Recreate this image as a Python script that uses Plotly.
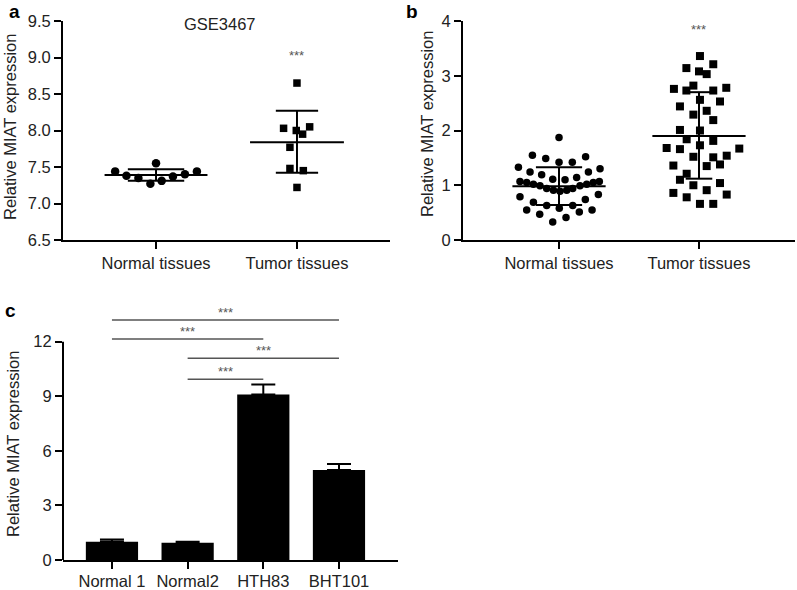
import plotly.graph_objects as go
import numpy as np

# ---------------- DATA ----------------
# Panel a (GSE3467)
a_categories = ["Normal tissues", "Tumor tissues"]
a_normal_offset = [-0.29, -0.21, -0.125, -0.04, 0.0, 0.04, 0.12, 0.205, 0.29]
a_normal_values = [7.44, 7.38, 7.35, 7.27, 7.55, 7.31, 7.37, 7.40, 7.44]
a_tumor_offset = [0.0, -0.095, -0.005, 0.09, 0.04, -0.05, -0.05, 0.045, 0.0]
a_tumor_values = [8.65, 8.03, 8.00, 8.05, 7.95, 7.77, 7.48, 7.45, 7.22]
a_mean = [7.39, 7.84]
a_sd_hi = [7.47, 8.27]
a_sd_lo = [7.31, 7.42]

# Panel b
b_categories = ["Normal tissues", "Tumor tissues"]
b_normal_offset = [0.0, -0.19, -0.095, 0.0, 0.095, 0.19, -0.29, 0.293, -0.207, 0.21,
                   -0.124, 0.126, -0.045, 0.043, -0.279, -0.231, -0.183, -0.136, -0.088, -0.04,
                   0.007, 0.055, 0.098, 0.15, 0.198, 0.245, 0.288, -0.279, 0.281, -0.183,
                   -0.088, 0.002, 0.098, 0.188, -0.231, 0.236, -0.138, 0.145, 0.05, -0.045]
b_normal_values = [1.87, 1.55, 1.49, 1.42, 1.42, 1.52, 1.33, 1.30, 1.24, 1.24,
                   1.19, 1.14, 1.11, 1.10, 1.07, 1.05, 1.02, 0.99, 0.94, 0.91,
                   0.89, 0.91, 0.94, 0.99, 1.02, 1.05, 1.07, 0.79, 0.83, 0.69,
                   0.63, 0.58, 0.63, 0.74, 0.55, 0.55, 0.47, 0.51, 0.41, 0.33]
b_tumor_offset = [0.007, -0.09, 0.102, 0.0, 0.055, -0.179, -0.09, -0.04, 0.102, 0.195,
                  0.007, 0.15, -0.136, -0.04, 0.055, 0.102, -0.136, 0.007, -0.088, 0.102,
                  -0.231, -0.136, 0.007, 0.288, -0.04, 0.102, 0.198, -0.183, 0.055, 0.15,
                  -0.088, -0.136, -0.04, 0.15, -0.183, -0.088, 0.055, 0.198, 0.007, 0.102]
b_tumor_values = [3.36, 3.14, 3.21, 3.08, 3.03, 2.76, 2.73, 2.82, 2.73, 2.78,
                  2.56, 2.53, 2.44, 2.29, 2.36, 2.19, 2.01, 2.00, 1.84, 1.81,
                  1.68, 1.66, 1.73, 1.67, 1.52, 1.51, 1.54, 1.36, 1.35, 1.38,
                  1.21, 1.10, 1.00, 1.04, 0.86, 0.78, 0.91, 0.83, 0.66, 0.66]
b_mean = [0.98, 1.90]
b_sd_hi = [1.33, 2.70]
b_sd_lo = [0.64, 1.12]

# Panel c
c_categories = ["Normal 1", "Normal2", "HTH83", "BHT101"]
c_values = [1.0, 0.95, 9.1, 4.95]
c_errors = [0.13, 0.05, 0.55, 0.33]
c_sig_pairs = [(0, 3), (0, 2), (1, 3), (1, 2)]
c_sig_labels = ["***", "***", "***", "***"]

# ---------------- STYLE ----------------
FONT = "Liberation Sans, Arial, sans-serif"
TXT = "#222222"
sig_levels = [13.19, 12.15, 11.09, 9.93]
a_mean_hw = [0.365, 0.333]
a_sd_hw = [0.2, 0.15]
b_mean_hw = [0.333, 0.333]
b_sd_hw = [0.165, 0.095]

W, H = 797, 590


def px2x(px):
    return px / W


def px2y(py):
    return 1 - py / H


def summary_lines(means, hi, lo, mean_hw, sd_hw):
    xs, ys = [], []
    for i in range(len(means)):
        xs += [i - mean_hw[i], i + mean_hw[i], None]
        ys += [means[i], means[i], None]
        xs += [i - sd_hw[i], i + sd_hw[i], None]
        ys += [hi[i], hi[i], None]
        xs += [i - sd_hw[i], i + sd_hw[i], None]
        ys += [lo[i], lo[i], None]
        xs += [i, i, None]
        ys += [lo[i], hi[i], None]
    return xs, ys


fig = go.Figure()

# Panel a
fig.add_trace(go.Scatter(x=np.array(a_normal_offset) + 0, y=a_normal_values, mode="markers",
                         marker=dict(symbol="circle", size=8.5, color="black"),
                         xaxis="x", yaxis="y", cliponaxis=False))
fig.add_trace(go.Scatter(x=np.array(a_tumor_offset) + 1, y=a_tumor_values, mode="markers",
                         marker=dict(symbol="square", size=7.5, color="black"),
                         xaxis="x", yaxis="y", cliponaxis=False))
xs, ys = summary_lines(a_mean, a_sd_hi, a_sd_lo, a_mean_hw, a_sd_hw)
fig.add_trace(go.Scatter(x=xs, y=ys, mode="lines", line=dict(color="black", width=2),
                         xaxis="x", yaxis="y"))

# Panel b
fig.add_trace(go.Scatter(x=np.array(b_normal_offset) + 0, y=b_normal_values, mode="markers",
                         marker=dict(symbol="circle", size=7.5, color="black"),
                         xaxis="x2", yaxis="y2", cliponaxis=False))
fig.add_trace(go.Scatter(x=np.array(b_tumor_offset) + 1, y=b_tumor_values, mode="markers",
                         marker=dict(symbol="square", size=8, color="black"),
                         xaxis="x2", yaxis="y2", cliponaxis=False))
xs, ys = summary_lines(b_mean, b_sd_hi, b_sd_lo, b_mean_hw, b_sd_hw)
fig.add_trace(go.Scatter(x=xs, y=ys, mode="lines", line=dict(color="black", width=2),
                         xaxis="x2", yaxis="y2"))

# Panel c
fig.add_trace(go.Bar(x=list(range(len(c_categories))), y=c_values, width=0.69,
                     marker=dict(color="black", line=dict(width=0)),
                     error_y=dict(type="data", array=c_errors, arrayminus=[0] * len(c_errors),
                                  symmetric=False, color="black", thickness=2, width=12),
                     xaxis="x3", yaxis="y3"))

axis_common = dict(showgrid=False, zeroline=False, showline=True, linecolor="black",
                   linewidth=2, ticks="outside", ticklen=7, tickwidth=2, tickcolor="black",
                   automargin=False,
                   tickfont=dict(family=FONT, size=16.5, color=TXT))

ydom_top = [px2y(240), px2y(21)]

fig.update_layout(
    width=W, height=H, margin=dict(l=0, r=0, t=0, b=0, pad=0, autoexpand=False),
    paper_bgcolor="white", plot_bgcolor="white", showlegend=False,
    font=dict(family=FONT, color=TXT),
    xaxis=dict(domain=[px2x(63), px2x(390)], range=[-0.66, 1.66], tickvals=[0, 1],
               ticktext=a_categories, anchor="y", **axis_common),
    yaxis=dict(domain=ydom_top, range=[6.5, 9.5], tickvals=[6.5, 7, 7.5, 8, 8.5, 9, 9.5],
               tickformat=".1f", anchor="x", **axis_common),
    xaxis2=dict(domain=[px2x(463), px2x(795)], range=[-0.686, 1.686], tickvals=[0, 1],
                ticktext=b_categories, anchor="y2", **axis_common),
    yaxis2=dict(domain=ydom_top, range=[0, 4], tickvals=[0, 1, 2, 3, 4], anchor="x2",
                **axis_common),
    xaxis3=dict(domain=[px2x(63), px2x(398)], range=[-0.647, 3.78],
                tickvals=list(range(len(c_categories))), ticktext=c_categories,
                anchor="y3", ticklabelstandoff=-2, **axis_common),
    yaxis3=dict(domain=[px2y(560), px2y(305.3)], range=[0, 14], tickvals=[0, 3, 6, 9, 12],
                anchor="x3", **{**axis_common, "showline": False}),
)

shapes = []
# y-axis line of panel c only up to 12
shapes.append(dict(type="line", xref="x3 domain", yref="y3", x0=0, x1=0, y0=0, y1=12,
                   line=dict(color="black", width=2)))
for (i, j), lvl in zip(c_sig_pairs, sig_levels):
    shapes.append(dict(type="line", xref="x3", yref="y3", x0=i, x1=j, y0=lvl, y1=lvl,
                       line=dict(color="#555555", width=1.5)))
fig.update_layout(shapes=shapes)

ann = []
# significance labels panel c
for (i, j), lvl, lab in zip(c_sig_pairs, sig_levels, c_sig_labels):
    ann.append(dict(x=(i + j) / 2, y=lvl, xref="x3", yref="y3", text=lab, showarrow=False,
                    xanchor="center", yanchor="bottom", yshift=-2,
                    font=dict(family=FONT, size=13, color="#555555")))
# panel a, b significance
ann.append(dict(x=1, y=9.03, xref="x", yref="y", text="***", showarrow=False,
                xanchor="center", yanchor="middle",
                font=dict(family=FONT, size=13, color="#555555")))
ann.append(dict(x=1, y=3.84, xref="x2", yref="y2", text="***", showarrow=False,
                xanchor="center", yanchor="middle",
                font=dict(family=FONT, size=13, color="#555555")))
ann.append(dict(x=px2x(220), y=px2y(24), xref="paper", yref="paper", text="GSE3467",
                showarrow=False, xanchor="center", yanchor="middle",
                font=dict(family=FONT, size=16.5, color=TXT)))
# y titles
for xp, yp in [(10, 127), (427, 124), (13, 444)]:
    ann.append(dict(x=px2x(xp), y=px2y(yp), xref="paper", yref="paper",
                    text="Relative MIAT expression", textangle=-90, showarrow=False,
                    xanchor="center", yanchor="middle",
                    font=dict(family=FONT, size=16.5, color=TXT)))
# panel letters
for lab, xp, yp in [("a", 15, 11), ("b", 412, 11), ("c", 10, 310)]:
    ann.append(dict(x=px2x(xp), y=px2y(yp), xref="paper", yref="paper", text="<b>%s</b>" % lab,
                    showarrow=False, xanchor="center", yanchor="middle",
                    font=dict(family=FONT, size=19, color="black")))
fig.update_layout(annotations=ann)

fig.write_html("out.html", config={"displayModeBar": False},
               post_script="document.body.style.margin='0';document.body.style.overflow='hidden';")
